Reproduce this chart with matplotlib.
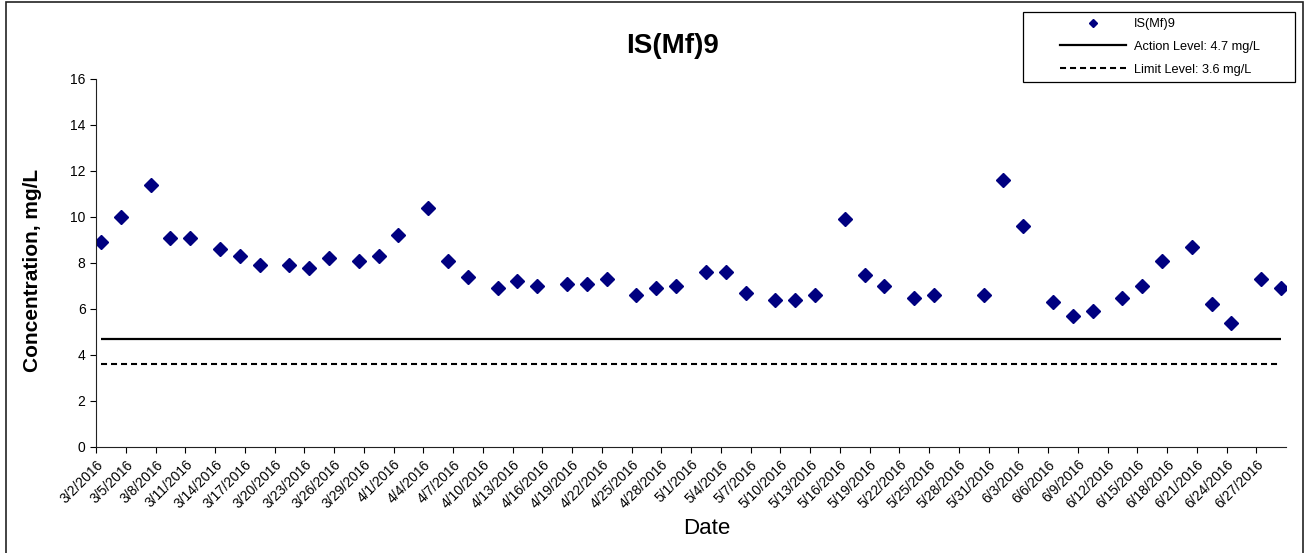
import matplotlib
matplotlib.use("Agg")
import matplotlib.pyplot as plt
import matplotlib.dates as mdates
from matplotlib.lines import Line2D
from matplotlib.patches import Rectangle
import pandas as pd

plt.rcParams['font.family'] = ['Liberation Sans', 'DejaVu Sans']

# sample dates and concentrations (mg/L)
dates = ['2016-03-02', '2016-03-04', '2016-03-07', '2016-03-09', '2016-03-11',
         '2016-03-14', '2016-03-16', '2016-03-18', '2016-03-21', '2016-03-23',
         '2016-03-25', '2016-03-28', '2016-03-30', '2016-04-01', '2016-04-04',
         '2016-04-06', '2016-04-08', '2016-04-11', '2016-04-13', '2016-04-15',
         '2016-04-18', '2016-04-20', '2016-04-22', '2016-04-25', '2016-04-27',
         '2016-04-29', '2016-05-02', '2016-05-04', '2016-05-06', '2016-05-09',
         '2016-05-11', '2016-05-13', '2016-05-16', '2016-05-18', '2016-05-20',
         '2016-05-23', '2016-05-25', '2016-05-30', '2016-06-01', '2016-06-03',
         '2016-06-06', '2016-06-08', '2016-06-10', '2016-06-13', '2016-06-15',
         '2016-06-17', '2016-06-20', '2016-06-22', '2016-06-24', '2016-06-27',
         '2016-06-29']
values = [8.9, 10.0, 11.4, 9.1, 9.1,
          8.6, 8.3, 7.9, 7.9, 7.8,
          8.2, 8.1, 8.3, 9.2, 10.4,
          8.1, 7.4, 6.9, 7.2, 7.0,
          7.1, 7.1, 7.3, 6.6, 6.9,
          7.0, 7.6, 7.6, 6.7, 6.4,
          6.4, 6.6, 9.9, 7.5, 7.0,
          6.5, 6.6, 6.6, 11.6, 9.6,
          6.3, 5.7, 5.9, 6.5, 7.0,
          8.1, 8.7, 6.2, 5.4, 7.3,
          6.9]
action_level = 4.7
limit_level = 3.6

tick_dates = pd.date_range('2016-03-02', '2016-06-27', freq='3D')
x_min, x_max = '2016-03-02', '2016-06-30'

x = mdates.date2num(pd.to_datetime(dates)) + 0.5  # centre of each day slot
ticks = mdates.date2num(tick_dates)
tick_labels = [f"{d.month}/{d.day}/{d.year}" for d in tick_dates]

fig = plt.figure(figsize=(13.06, 5.53), dpi=100)
ax = fig.add_axes([96/1306, 1 - 447/553, (1286 - 96)/1306, (447 - 79)/553])

navy = '#000080'
ax.plot(x, values, linestyle='none', marker='D', markersize=7.5,
        color=navy, markeredgecolor=navy)
ax.hlines(action_level, x[0], x[-1], colors='black', linewidth=1.6)
ax.hlines(limit_level, x[0], x[-1], colors='black', linewidth=1.5,
          linestyles=(0, (2.9, 1.9)))

ax.set_xlim(mdates.date2num(pd.Timestamp(x_min)), mdates.date2num(pd.Timestamp(x_max)))
ax.set_ylim(0, 16)
ax.set_yticks(range(0, 17, 2))
ax.set_xticks(ticks)
ax.set_xticklabels(tick_labels, rotation=45, ha='right', rotation_mode='anchor', fontsize=10)
ax.tick_params(axis='y', labelsize=10, length=4, width=0.8, direction='out')
ax.tick_params(axis='x', length=4, width=0.8, direction='out')
for s in ['top', 'right']:
    ax.spines[s].set_visible(False)
for s in ['left', 'bottom']:
    ax.spines[s].set_linewidth(0.8)
    ax.spines[s].set_color('#222222')

fig.text(672/1306, 1 - 46/553, 'IS(Mf)9', fontsize=20, fontweight='bold',
         ha='center', va='center')
fig.text(33/1306, 1 - 270/553, 'Concentration, mg/L', fontsize=15, fontweight='bold',
         rotation=90, ha='center', va='center')
fig.text(707/1306, 1 - 528/553, 'Date', fontsize=16, ha='center', va='center')

# legend with a separately drawn frame
handles = [Line2D([], [], linestyle='none', marker='D', markersize=4, color=navy),
           Line2D([], [], color='black', linewidth=1.6),
           Line2D([], [], color='black', linewidth=1.5, linestyle=(0, (2.9, 1.9)))]
labels = ['IS(Mf)9', 'Action Level: 4.7 mg/L', 'Limit Level: 3.6 mg/L']
fig.legend(handles, labels, loc='upper left', bbox_to_anchor=(1060/1306, 1 - 18/553),
           bbox_transform=fig.transFigure, frameon=False, fontsize=9.2,
           handlelength=5.2, handletextpad=0.6, labelspacing=0.85,
           borderpad=0, borderaxespad=0)
fig.patches.append(Rectangle((1023/1306, 1 - 82/553), 272/1306, 70/553,
                             transform=fig.transFigure, fill=False,
                             edgecolor='black', linewidth=0.9))
# outer chart border
fig.patches.append(Rectangle((6/1306, -0.05), 1297/1306, 1.05 - 2/553,
                             transform=fig.transFigure, fill=False,
                             edgecolor='#222222', linewidth=1.2, clip_on=False))

fig.savefig('out.png', dpi=100)
